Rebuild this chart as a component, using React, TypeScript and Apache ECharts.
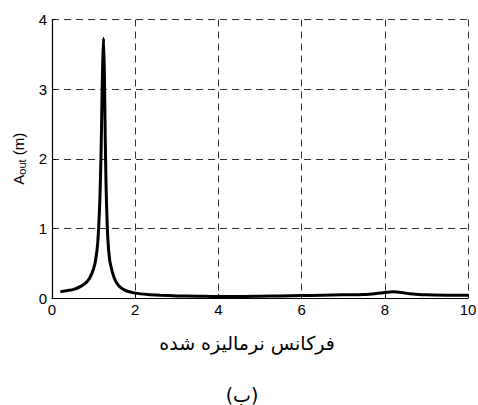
import React, { useEffect, useRef } from "react";
import * as echarts from "echarts";

// Normalised frequency (x) and output amplitude in metres (y)
const freq = [
  0.2, 0.3, 0.4, 0.5, 0.6, 0.7, 0.8, 0.9, 1.0, 1.05, 1.1, 1.15, 1.18, 1.2, 1.22,
  1.24, 1.26, 1.28, 1.3, 1.33, 1.36, 1.4, 1.5, 1.6, 1.7, 1.8, 2.0, 2.3, 2.6, 3.0,
  3.5, 4.0, 4.5, 5.0, 5.5, 6.0, 6.5, 7.0, 7.5, 7.8, 8.0, 8.2, 8.4, 8.6, 8.8, 9.0,
  9.5, 10.0,
];
const amplitude = [
  0.09, 0.1, 0.11, 0.12, 0.14, 0.17, 0.21, 0.28, 0.42, 0.55, 0.8, 1.4, 2.1, 2.8,
  3.4, 3.73, 3.2, 2.3, 1.6, 1.0, 0.7, 0.5, 0.28, 0.18, 0.13, 0.1, 0.07, 0.05, 0.04,
  0.03, 0.025, 0.02, 0.02, 0.025, 0.03, 0.035, 0.04, 0.045, 0.05, 0.065, 0.08,
  0.09, 0.08, 0.06, 0.05, 0.045, 0.04, 0.04,
];
const xTicks = [0, 2, 4, 6, 8, 10];
const yTicks = [0, 1, 2, 3, 4];

const xTitle = "فرکانس نرمالیزه شده";
const caption = "(ب)";

const sans = "Liberation Sans, Arial, sans-serif";
const arabicFont = "DejaVu Sans, sans-serif";

export default function App() {
  const ref = useRef<HTMLDivElement>(null);

  useEffect(() => {
    if (!ref.current) return;
    document.body.style.margin = "0";
    document.body.style.overflow = "hidden";
    const chart = echarts.init(ref.current, undefined, { renderer: "svg" });
    const gridStyle = { color: "#333", width: 1, type: [7, 5] as number[] };
    const axisLine = { show: true, onZero: false, lineStyle: { color: "#000", width: 1.2 } };
    const axisTick = { show: true, inside: true, length: 4, lineStyle: { color: "#000" } };
    chart.setOption({
      animation: false,
      backgroundColor: "#ffffff",
      grid: { left: 52, top: 19.5, right: 10, bottom: 107, outerBoundsMode: "none", containLabel: false },
      xAxis: {
        type: "value",
        min: xTicks[0],
        max: xTicks[xTicks.length - 1],
        interval: 2,
        axisLine,
        axisTick,
        splitLine: { show: true, lineStyle: gridStyle },
        axisLabel: { color: "#000", fontFamily: sans, fontSize: 15, margin: 4 },
      },
      yAxis: {
        type: "value",
        min: yTicks[0],
        max: yTicks[yTicks.length - 1],
        interval: 1,
        axisLine,
        axisTick,
        splitLine: { show: true, lineStyle: gridStyle },
        axisLabel: { color: "#000", fontFamily: sans, fontSize: 15, margin: 5 },
        name: "{a|A}{s|out}{a| (m)}",
        nameLocation: "middle",
        nameRotate: 90,
        nameGap: 24,
        nameTextStyle: {
          rich: {
            a: { color: "#000", fontFamily: sans, fontSize: 15 },
            s: {
              color: "#000",
              fontFamily: sans,
              fontSize: 11,
              verticalAlign: "bottom",
              padding: [8, 0, 0, 0],
            },
          },
        },
      },
      series: [
        {
          type: "line",
          data: freq.map((f, i) => [f, amplitude[i]]),
          showSymbol: false,
          smooth: 0.2,
          lineStyle: { color: "#000", width: 3 },
        },
      ],
      graphic: [
        {
          type: "text",
          x: 247,
          y: 343,
          style: {
            text: xTitle,
            fill: "#000",
            font: `19px ${arabicFont}`,
            textAlign: "center",
            textVerticalAlign: "middle",
          },
        },
        {
          type: "text",
          x: 242,
          y: 395,
          style: {
            text: caption,
            fill: "#000",
            font: `19px ${arabicFont}`,
            textAlign: "center",
            textVerticalAlign: "middle",
          },
        },
      ],
    });
    return () => chart.dispose();
  }, []);

  return <div ref={ref} style={{ width: 478, height: 405 }} />;
}
